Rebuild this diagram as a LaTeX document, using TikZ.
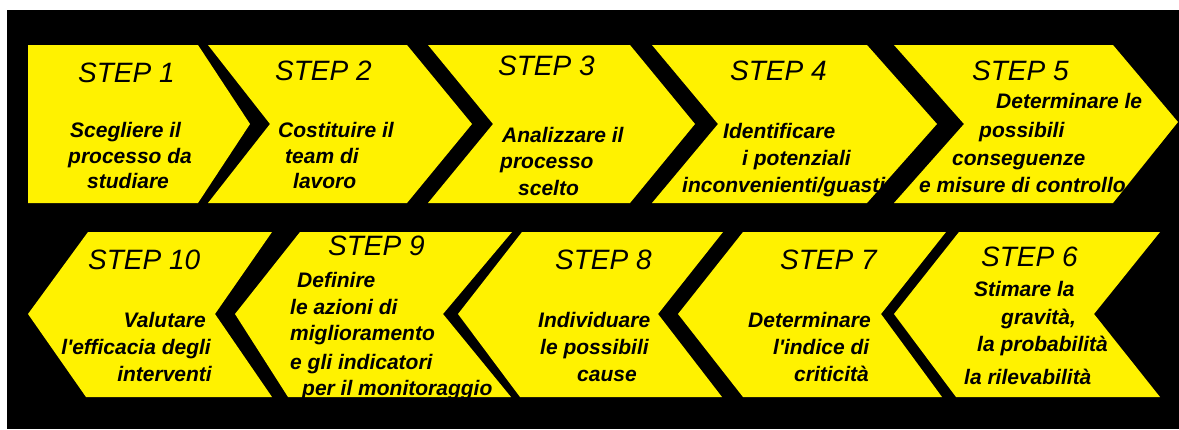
\documentclass[tikz,border=0pt]{standalone}
\usepackage{fontspec}
\setmainfont{Liberation Sans}[Ligatures=TeXOff]
\begin{document}
\begin{tikzpicture}[x=1pt,y=-1pt,
  chev/.style={fill=yellow},
  steptxt/.style={font=\fontsize{28}{30}\selectfont\itshape, anchor=base west, inner sep=0pt},
  bodytxt/.style={font=\fontsize{21}{25}\selectfont\bfseries\itshape, anchor=base west, inner sep=0pt},
  bodyr/.style={bodytxt, anchor=base east}]
\useasboundingbox (0,0) rectangle (1179,429);
\fill[white] (0,0) rectangle (1179,429);
\fill[black] (7,10) rectangle (1179,429);
% top row
\fill[chev] (28,45) -- (198,45) -- (250,124) -- (198,203) -- (28,203) -- cycle;
\fill[chev] (208,45) -- (407,45) -- (472,124) -- (407,203) -- (208,203) -- (270,124) -- cycle;
\fill[chev] (428,45) -- (630,45) -- (695,124) -- (630,203) -- (428,203) -- (493,124) -- cycle;
\fill[chev] (652,45) -- (867,45) -- (937,124) -- (867,203) -- (652,203) -- (718,124) -- cycle;
\fill[chev] (894,45) -- (1113,45) -- (1178,122) -- (1113,203) -- (894,203) -- (964,124) -- cycle;
% bottom row
\fill[chev] (28,314) -- (88,232) -- (272,232) -- (215,314) -- (272,397) -- (86,397) -- cycle;
\fill[chev] (235,314) -- (300,232) -- (512,232) -- (443,314) -- (511,397) -- (288,397) -- cycle;
\fill[chev] (458,314) -- (522,232) -- (723,232) -- (658,314) -- (722,397) -- (520,397) -- cycle;
\fill[chev] (678,314) -- (743,232) -- (946,232) -- (881,314) -- (942,397) -- (743,397) -- cycle;
\fill[chev] (894,314) -- (959,232) -- (1160,232) -- (1094,314) -- (1160,397) -- (956,397) -- cycle;
% step 1
\node[steptxt] (s1) at (78,82) {STEP 1};
\node[bodytxt] (s1a) at (70,137) {Scegliere il};
\node[bodytxt] (s1b) at (68,163) {processo da};
\node[bodytxt] (s1c) at (87,188) {studiare};
% step 2
\node[steptxt] (s2) at (275,80) {STEP 2};
\node[bodytxt] (s2a) at (278,137) {Costituire il};
\node[bodytxt] (s2b) at (285,163) {team di};
\node[bodytxt] (s2c) at (293,188) {lavoro};
% step 3
\node[steptxt] (s3) at (498,75) {STEP 3};
\node[bodytxt] (s3a) at (502,142) {Analizzare il};
\node[bodytxt] (s3b) at (500,168) {processo};
\node[bodytxt] (s3c) at (518,195) {scelto};
% step 4
\node[steptxt] (s4) at (730,80) {STEP 4};
\node[bodytxt] (s4a) at (723,138) {Identificare};
\node[bodytxt] (s4b) at (742,165) {i potenziali};
\node[bodytxt] (s4c) at (682,192) {inconvenienti/guasti};
% step 5
\node[steptxt] (s5) at (972,80) {STEP 5};
\node[bodytxt] (s5a) at (996,108) {Determinare le};
\node[bodytxt] (s5b) at (979,137) {possibili};
\node[bodytxt] (s5c) at (952,165) {conseguenze};
\node[bodytxt] (s5d) at (919,192) {e misure di controllo};
% step 10
\node[steptxt] (s10) at (88,269) {STEP 10};
\node[bodyr] (s10a) at (206,327) {Valutare};
\node[bodyr] (s10b) at (211,354) {l'efficacia degli};
\node[bodyr] (s10c) at (212,381) {interventi};
% step 9
\node[steptxt] (s9) at (328,255) {STEP 9};
\node[bodytxt] (s9a) at (297,287) {Definire};
\node[bodytxt] (s9b) at (290,314) {le azioni di};
\node[bodytxt] (s9c) at (290,340) {miglioramento};
\node[bodytxt] (s9d) at (290,369) {e gli indicatori};
\node[bodytxt] (s9e) at (302,395) {per il monitoraggio};
% step 8
\node[steptxt] (s8) at (555,269) {STEP 8};
\node[bodytxt] (s8a) at (538,327) {Individuare};
\node[bodytxt] (s8b) at (540,354) {le possibili};
\node[bodytxt] (s8c) at (577,381) {cause};
% step 7
\node[steptxt] (s7) at (780,269) {STEP 7};
\node[bodytxt] (s7a) at (748,327) {Determinare};
\node[bodytxt] (s7b) at (773,354) {l'indice di};
\node[bodytxt] (s7c) at (794,381) {criticità};
% step 6
\node[steptxt] (s6) at (981,266) {STEP 6};
\node[bodytxt] (s6a) at (974,296) {Stimare la};
\node[bodytxt] (s6b) at (1001,324) {gravità,};
\node[bodytxt] (s6c) at (977,351) {la probabilità};
\node[bodytxt] (s6d) at (964,384) {la rilevabilità};
\end{tikzpicture}
\end{document}
